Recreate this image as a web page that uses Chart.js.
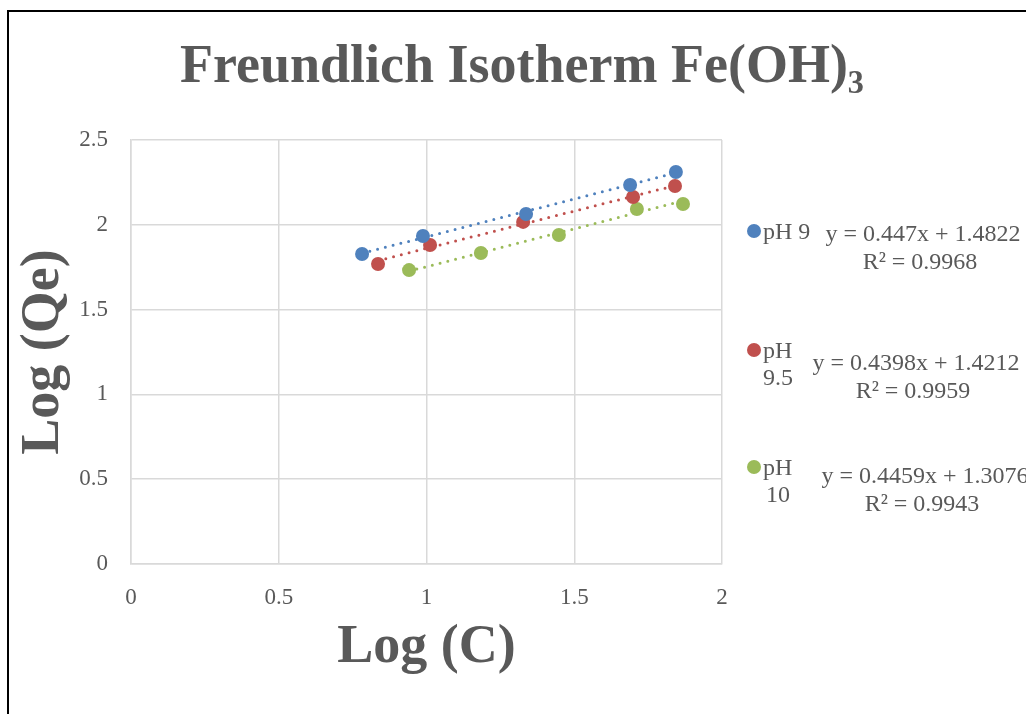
<!DOCTYPE html>
<html>
<head>
<meta charset="utf-8">
<script src="https://cdn.jsdelivr.net/npm/chart.js@4/dist/chart.umd.min.js"></script>
<style>
  html, body { margin: 0; padding: 0; background: #fff; }
  #wrap { position: relative; width: 1026px; height: 714px; overflow: hidden; }
  #frame { position: absolute; left: 7px; top: 10px; right: -10px; bottom: -10px;
           border-left: 2px solid #000; border-top: 2px solid #000; pointer-events: none; }
</style>
</head>
<body>
<div id="wrap">
  <canvas id="isoChart" width="1026" height="714"></canvas>
  <div id="frame"></div>
</div>
<script>
// values
const seriesNames = ['pH 9', 'pH 9.5', 'pH 10'];
const legendLines = [['pH 9'], ['pH', '9.5'], ['pH', '10']];
const equations = ['y = 0.447x + 1.4822', 'y = 0.4398x + 1.4212', 'y = 0.4459x + 1.3076'];
const rSquared = ['R² = 0.9968', 'R² = 0.9959', 'R² = 0.9943'];
const colors = ['#4F81BD', '#C0504D', '#9BBB59'];

const logC_pH9 = [0.782, 0.988, 1.337, 1.689, 1.844];
const logQe_pH9 = [1.828, 1.934, 2.064, 2.235, 2.311];
const logC_pH95 = [0.836, 1.012, 1.327, 1.699, 1.841];
const logQe_pH95 = [1.769, 1.881, 2.017, 2.164, 2.229];
const logC_pH10 = [0.941, 1.184, 1.448, 1.712, 1.868];
const logQe_pH10 = [1.733, 1.834, 1.940, 2.093, 2.123];

// trendline end points (from the shown equations)
const trendX = [[0.782, 1.844], [0.836, 1.841], [0.941, 1.868]];
const trendY = [[1.832, 2.306], [1.789, 2.231], [1.727, 2.141]];

const xTicks = [0, 0.5, 1, 1.5, 2];
const yTicks = [0, 0.5, 1, 1.5, 2, 2.5];

const titleText = 'Freundlich Isotherm Fe(OH)₃';
const xTitle = 'Log (C)';
const yTitle = 'Log (Qe)';

const serif = '"Liberation Serif", "Times New Roman", serif';
const grey = '#595959';

function pts(xs, ys) {
    return xs.map((x, i) => ({ x: x, y: ys[i] }));
}

const allX = [logC_pH9, logC_pH95, logC_pH10];
const allY = [logQe_pH9, logQe_pH95, logQe_pH10];

const datasets = [];
for (let i = 0; i < 3; i++) {
    datasets.push({
        type: 'scatter',
        label: seriesNames[i],
        data: pts(allX[i], allY[i]),
        backgroundColor: colors[i],
        borderWidth: 0,
        pointRadius: 7,
        order: 0
    });
    datasets.push({
        type: 'line',
        label: seriesNames[i] + ' trend',
        data: pts(trendX[i], trendY[i]),
        borderColor: colors[i],
        borderWidth: 3,
        borderDash: [0, 8],
        borderCapStyle: 'round',
        pointRadius: 0,
        fill: false,
        order: 1
    });
}

const extras = {
    id: 'extras',
    afterDraw(chart) {
        const ctx = chart.ctx;
        ctx.save();
        ctx.fillStyle = grey;
        ctx.font = 'bold 54px ' + serif;
        ctx.textAlign = 'center';
        ctx.textBaseline = 'alphabetic';
        ctx.fillText(titleText, 522, 82);

        // side legend with trendline equations
        const rows = [
            { cy: 231, eqX: 923, eqY: 235 },
            { cy: 350, eqX: 916, eqY: 364 },
            { cy: 467, eqX: 925, eqY: 477 }
        ];
        ctx.font = '24px ' + serif;
        rows.forEach((r, i) => {
            ctx.beginPath();
            ctx.arc(754, r.cy, 7, 0, Math.PI * 2);
            ctx.fillStyle = colors[i];
            ctx.fill();
            ctx.fillStyle = grey;
            ctx.textBaseline = 'middle';
            legendLines[i].forEach((t, k) => {
                ctx.textAlign = k === 0 ? 'left' : 'center';
                ctx.fillText(t, k === 0 ? 763 : 778, r.cy + 2 + k * 27);
            });
            ctx.textAlign = 'center';
            ctx.fillText(equations[i], r.eqX, r.eqY);
            ctx.fillText(rSquared[i], r.eqX - 3, r.eqY + 28);
        });
        ctx.restore();
    }
};

new Chart('isoChart', {
    data: { datasets: datasets },
    options: {
        responsive: false,
        animation: false,
        events: [],
        layout: { padding: { left: 0, top: 140, right: 304, bottom: 0 } },
        plugins: {
            legend: { display: false },
            title: { display: false },
            tooltip: { enabled: false }
        },
        scales: {
            x: {
                type: 'linear',
                min: 0,
                max: 2,
                afterFit: s => { s.height = 150; },
                afterBuildTicks: s => { s.ticks = xTicks.map(v => ({ value: v })); },
                grid: { color: '#d9d9d9', lineWidth: 1.5, drawTicks: false },
                border: { color: '#d9d9d9', width: 1.5 },
                ticks: { color: grey, padding: 20, font: { family: serif, size: 23 }, callback: v => String(v) },
                title: { display: true, text: xTitle, color: grey, font: { family: serif, size: 54, weight: 'bold' }, padding: { top: 0, bottom: 34 } }
            },
            y: {
                type: 'linear',
                min: 0,
                max: 2.5,
                afterFit: s => { s.width = 131; },
                afterBuildTicks: s => { s.ticks = yTicks.map(v => ({ value: v })); },
                grid: { color: '#d9d9d9', lineWidth: 1.5, drawTicks: false },
                border: { color: '#d9d9d9', width: 1.5 },
                ticks: { color: grey, padding: 23, font: { family: serif, size: 23 }, callback: v => String(v) },
                title: { display: true, text: yTitle, color: grey, font: { family: serif, size: 54, weight: 'bold' }, padding: { top: 12, bottom: 0 } }
            }
        }
    },
    plugins: [extras]
});
</script>
</body>
</html>
